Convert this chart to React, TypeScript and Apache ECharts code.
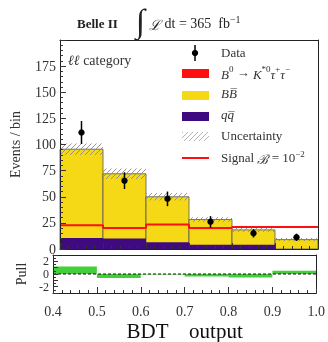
import React, { useEffect, useRef } from 'react';
import * as echarts from 'echarts';

const binEdges = [0.4, 0.5, 0.6, 0.7, 0.8, 0.9, 1.0];
const qqValues = [10.5, 10, 6.4, 4, 4, 0];
const bbValues = [85, 62, 43.6, 24.2, 14.3, 9];
const uncValues = [5.5, 5, 3.5, 2.2, 2, 1.6];
const signalValues = [22.7, 20.2, 23.4, 20.2, 21.1, 21.1];
const dataValues = [111.5, 65.4, 48, 26, 15, 11.2];
const dataErrors = [11, 8, 7, 5.5, 4, 3.5];
const pullValues = [1.2, -0.65, -0.08, -0.4, -0.55, 0.5];

const FONT = 'Liberation Serif';
const YELLOW = '#f6d916';
const PURPLE = '#3f0a80';
const GREEN = '#42d03a';
const HATCH = '#8a8a8a';

function hatchLines(x0: number, y0: number, x1: number, y1: number, spacing: number, stroke: string) {
  const lines: any[] = [];
  const cStart = Math.floor((x0 + y0) / spacing) * spacing;
  for (let c = cStart; c <= x1 + y1; c += spacing) {
    const xa = Math.max(x0, c - y1);
    const xb = Math.min(x1, c - y0);
    if (xb > xa) {
      lines.push({
        type: 'line',
        shape: { x1: xa, y1: c - xa, x2: xb, y2: c - xb },
        style: { stroke, lineWidth: 0.9 },
      });
    }
  }
  return lines;
}

export default function App() {
  const ref = useRef<HTMLDivElement>(null);
  useEffect(() => {
    const chart = echarts.init(ref.current!, null, { renderer: 'svg' });
    const n = qqValues.length;
    const bins = qqValues.map((_, i) => [binEdges[i], binEdges[i + 1]]);
    const totals = qqValues.map((q, i) => q + bbValues[i]);

    const rectSeries = (name: string, data: number[][], fill: string, stroke?: string, xi = 0, yi = 0, z = 2) => ({
      name,
      type: 'custom',
      xAxisIndex: xi,
      yAxisIndex: yi,
      z,
      data,
      renderItem: (params: any, api: any) => {
        const a = api.coord([api.value(0), Math.max(api.value(2), api.value(3))]);
        const b = api.coord([api.value(1), Math.min(api.value(2), api.value(3))]);
        return {
          type: 'rect',
          shape: { x: a[0], y: a[1], width: b[0] - a[0], height: b[1] - a[1] },
          style: { fill, stroke: stroke || 'none', lineWidth: stroke ? 0.8 : 0 },
        };
      },
    });

    const axisCommon = {
      splitLine: { show: false },
      axisLine: { show: true, onZero: false, lineStyle: { color: '#222', width: 1 } },
      z: 10,
    };

    const option: any = {
      animation: false,
      grid: [
        { left: 53, top: 40, width: 265, height: 209, show: false },
        { left: 53, top: 255, width: 265, height: 47, show: false },
      ],
      xAxis: [
        {
          ...axisCommon, gridIndex: 0, type: 'value', min: 0.4, max: 1.0, interval: 0.1,
          axisLabel: { show: false },
          axisTick: { show: true, inside: true, length: 6, lineStyle: { color: '#333' } },
          minorTick: { show: true, splitNumber: 5, length: 3, lineStyle: { color: '#333' } },
        },
        {
          ...axisCommon, gridIndex: 1, type: 'value', min: 0.4, max: 1.0, interval: 0.1,
          axisLabel: {
            show: true, formatter: (v: number) => v.toFixed(1), fontFamily: FONT, fontSize: 14,
            color: '#333', margin: 11,
          },
          axisTick: { show: true, inside: true, length: 6, lineStyle: { color: '#333' } },
          minorTick: { show: true, splitNumber: 5, length: 3, lineStyle: { color: '#333' } },
          name: 'BDT    output', nameLocation: 'middle', nameGap: 27,
          nameTextStyle: { fontFamily: FONT, fontSize: 21, color: '#111' },
        },
        { ...axisCommon, gridIndex: 0, type: 'value', min: 0.4, max: 1.0, position: 'top', axisLabel: { show: false }, axisTick: { show: false } },
        { ...axisCommon, gridIndex: 1, type: 'value', min: 0.4, max: 1.0, position: 'top', axisLabel: { show: false }, axisTick: { show: false } },
      ],
      yAxis: [
        {
          ...axisCommon, gridIndex: 0, type: 'value', min: 0, max: 200, interval: 25,
          axisLabel: { show: true, showMaxLabel: false, fontFamily: FONT, fontSize: 14, color: '#333', margin: 4 },
          axisTick: { show: true, inside: true, length: 6, lineStyle: { color: '#333' } },
          minorTick: { show: true, splitNumber: 5, length: 3, lineStyle: { color: '#333' } },
          name: 'Events / bin', nameLocation: 'middle', nameGap: 38,
          nameTextStyle: { fontFamily: FONT, fontSize: 14, color: '#333' },
        },
        {
          ...axisCommon, gridIndex: 1, type: 'value', min: -3, max: 3, interval: 1,
          axisLabel: {
            show: true, fontFamily: FONT, fontSize: 12, color: '#333', margin: 4,
            formatter: (v: number) => (Math.abs(v) === 2 || v === 0 ? String(v) : ''),
          },
          axisTick: { show: true, inside: true, length: 5, lineStyle: { color: '#333' } },
          minorTick: { show: true, splitNumber: 2, length: 3, lineStyle: { color: '#333' } },
          name: 'Pull', nameLocation: 'middle', nameGap: 25,
          nameTextStyle: { fontFamily: FONT, fontSize: 14, color: '#333' },
        },
        { ...axisCommon, gridIndex: 0, type: 'value', min: 0, max: 200, position: 'right', axisLabel: { show: false }, axisTick: { show: false } },
        { ...axisCommon, gridIndex: 1, type: 'value', min: -3, max: 3, position: 'right', axisLabel: { show: false }, axisTick: { show: false } },
      ],
      series: [
        rectSeries('BB', bins.map((b, i) => [b[0], b[1], 0, totals[i]]), YELLOW, '#555'),
        rectSeries('qq', bins.map((b, i) => [b[0], b[1], 0, qqValues[i]]), PURPLE, undefined, 0, 0, 3),
        {
          name: 'Uncertainty',
          type: 'custom', xAxisIndex: 0, yAxisIndex: 0, z: 4,
          data: bins.map((b, i) => [b[0], b[1], totals[i] - uncValues[i], totals[i] + uncValues[i]]),
          renderItem: (params: any, api: any) => {
            const a = api.coord([api.value(0), api.value(3)]);
            const b = api.coord([api.value(1), api.value(2)]);
            return { type: 'group', children: hatchLines(a[0], a[1], b[0], b[1], 5, HATCH) };
          },
        },
        {
          name: 'Signal',
          type: 'line', xAxisIndex: 0, yAxisIndex: 0, z: 5,
          step: 'end', symbol: 'none',
          data: binEdges.map((x, i) => [x, signalValues[Math.min(i, n - 1)]]),
          lineStyle: { color: '#ff1010', width: 2 },
        },
        {
          name: 'Data',
          type: 'custom', xAxisIndex: 0, yAxisIndex: 0, z: 6,
          data: bins.map((b, i) => [(b[0] + b[1]) / 2, dataValues[i], dataErrors[i]]),
          renderItem: (params: any, api: any) => {
            const x = api.value(0), y = api.value(1), e = api.value(2);
            const p = api.coord([x, y]);
            const lo = api.coord([x, y - e]);
            const hi = api.coord([x, y + e]);
            return {
              type: 'group',
              children: [
                { type: 'line', shape: { x1: p[0], y1: lo[1], x2: p[0], y2: hi[1] }, style: { stroke: '#000', lineWidth: 1.5 } },
                { type: 'circle', shape: { cx: p[0], cy: p[1], r: 3.2 }, style: { fill: '#000' } },
              ],
            };
          },
        },
        rectSeries('Pull', bins.map((b, i) => [b[0], b[1], 0, pullValues[i]]), GREEN, undefined, 1, 1, 2),
        {
          name: 'zero',
          type: 'line', xAxisIndex: 1, yAxisIndex: 1, z: 5, symbol: 'none',
          data: [[0.4, 0], [1.0, 0]],
          lineStyle: { color: '#111', width: 1, type: [3, 2] },
        },
      ],
      graphic: [
        { type: 'text', left: 77, top: 17, style: { text: 'Belle II', fontFamily: FONT, fontSize: 13, fontWeight: 'bold', fill: '#222' } },
        { type: 'text', left: 136, top: 4, style: { text: '∫', fontFamily: FONT, fontSize: 33, fontStyle: 'italic', fill: '#222' } },
        {
          type: 'text', left: 149, top: 14,
          style: {
            text: '{i|ℒ} dt = 365  fb{sup|−1}',
            fontFamily: FONT, fontSize: 14, fill: '#222',
            rich: {
              i: { fontFamily: FONT, fontSize: 14, fontStyle: 'italic', fill: '#222', lineHeight: 18, verticalAlign: 'bottom' },
              sup: { fontFamily: FONT, fontSize: 10, fill: '#222', lineHeight: 18, verticalAlign: 'top' },
            },
          },
        },
        {
          type: 'text', left: 68, top: 53,
          style: {
            text: '{i|ℓℓ} category', fontFamily: FONT, fontSize: 14, fill: '#333',
            rich: { i: { fontFamily: FONT, fontSize: 14, fontStyle: 'italic', fill: '#333' } },
          },
        },
        // legend
        { type: 'line', shape: { x1: 195, y1: 45, x2: 195, y2: 61 }, style: { stroke: '#000', lineWidth: 1.5 } },
        { type: 'circle', shape: { cx: 195, cy: 53, r: 3.2 }, style: { fill: '#000' } },
        { type: 'rect', shape: { x: 182, y: 69, width: 27, height: 9 }, style: { fill: '#ff1010' } },
        { type: 'rect', shape: { x: 182, y: 91, width: 27, height: 9 }, style: { fill: YELLOW } },
        { type: 'rect', shape: { x: 182, y: 112, width: 27, height: 9 }, style: { fill: PURPLE } },
        { type: 'group', children: hatchLines(182, 132, 209, 141, 5, '#aaa') },
        { type: 'line', shape: { x1: 182, y1: 158, x2: 209, y2: 158 }, style: { stroke: '#ff1010', lineWidth: 2 } },
        { type: 'text', left: 221, top: 46, style: { text: 'Data', fontFamily: FONT, fontSize: 13, fill: '#333' } },
        {
          type: 'text', left: 221, top: 64,
          style: {
            text: '{i|B}{sup|0} → {i|K}{sup|*0}{i|τ}{sup|+}{i|τ}{sup|−}',
            fontFamily: FONT, fontSize: 13, fill: '#333',
            rich: {
              i: { fontFamily: FONT, fontSize: 13, fontStyle: 'italic', fill: '#333', lineHeight: 17, verticalAlign: 'bottom' },
              sup: { fontFamily: FONT, fontSize: 9, fill: '#333', lineHeight: 17, verticalAlign: 'top' },
            },
          },
        },
        {
          type: 'text', left: 221, top: 87,
          style: { text: 'BB\u0305', fontFamily: FONT, fontSize: 13, fontStyle: 'italic', fill: '#333' },
        },
        {
          type: 'text', left: 221, top: 108,
          style: { text: 'qq\u0305', fontFamily: FONT, fontSize: 13, fontStyle: 'italic', fill: '#333' },
        },
        { type: 'text', left: 221, top: 129, style: { text: 'Uncertainty', fontFamily: FONT, fontSize: 13, fill: '#333' } },
        {
          type: 'text', left: 221, top: 149,
          style: {
            text: 'Signal {i|ℬ} = 10{sup|−2}', fontFamily: FONT, fontSize: 13, fill: '#333',
            rich: {
              i: { fontFamily: FONT, fontSize: 13, fontStyle: 'italic', fill: '#333', lineHeight: 17, verticalAlign: 'bottom' },
              sup: { fontFamily: FONT, fontSize: 9, fill: '#333', lineHeight: 17, verticalAlign: 'top' },
            },
          },
        },
      ],
    };
    chart.setOption(option);
    return () => chart.dispose();
  }, []);
  return <div ref={ref} style={{ position: 'fixed', left: 0, top: 0, width: 328, height: 342 }} />;
}
